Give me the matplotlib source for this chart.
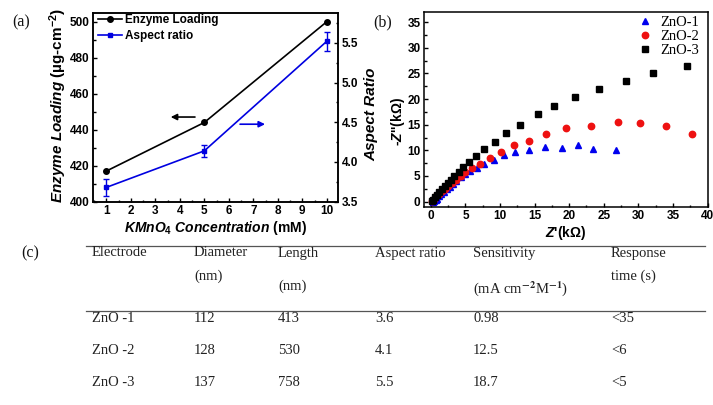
import matplotlib
matplotlib.use("Agg")
import matplotlib.pyplot as plt
from matplotlib.lines import Line2D
from matplotlib.ticker import MultipleLocator

# (a) enzyme loading and aspect ratio vs KMnO4 concentration
conc = [1, 5, 10]
enzyme_loading = [417, 444, 500]
aspect_ratio = [3.68, 4.14, 5.52]
aspect_err = [0.11, 0.08, 0.12]

# (b) Nyquist plots
zno1_re = [0.3, 0.5, 0.7, 0.9, 1.2, 1.5, 1.9, 2.3, 2.7, 3.2, 3.7, 4.3, 4.9,
           5.6, 6.6, 7.7, 9.1, 10.6, 12.2, 14.2, 16.5, 18.9, 21.2, 23.5, 26.7]
zno1_im = [0.0, 0.1, 0.3, 0.6, 1.0, 1.4, 1.9, 2.4, 2.9, 3.5, 4.1, 4.7, 5.3,
           5.9, 6.6, 7.4, 8.2, 9.0, 9.6, 10.1, 10.7, 10.5, 11.0, 10.3, 10.0]
zno2_re = [0.2, 0.5, 0.8, 1.2, 1.6, 2.0, 2.5, 3.0, 3.6, 4.3, 5.0, 5.9, 7.1,
           8.5, 10.1, 12.0, 14.2, 16.7, 19.6, 23.2, 27.0, 30.2, 34.0, 37.7]
zno2_im = [0.2, 0.6, 1.0, 1.5, 2.0, 2.5, 3.1, 3.7, 4.3, 5.0, 5.7, 6.5, 7.4,
           8.6, 9.7, 11.0, 11.9, 13.1, 14.4, 14.7, 15.5, 15.4, 14.7, 13.2]
zno3_re = [0.1, 0.3, 0.6, 0.9, 1.2, 1.6, 2.0, 2.4, 2.9, 3.4, 4.0, 4.6, 5.5,
           6.5, 7.7, 9.2, 10.8, 12.85, 15.45, 17.8, 20.8, 24.3, 28.2, 32.1, 37.1]
zno3_im = [0.1, 0.4, 0.8, 1.3, 1.8, 2.4, 3.0, 3.6, 4.3, 5.0, 5.8, 6.7, 7.8,
           8.9, 10.25, 11.7, 13.3, 15.0, 17.0, 18.6, 20.4, 22.0, 23.6, 25.1, 26.4]

# (c) table
header_top = ["Electrode", "Diameter", "Length", "Aspect ratio", "Sensitivity", "Response"]
header_bottom = ["", "(nm)", "(nm)", "", "(mA cm$^{-2}$M$^{-1}$)", "time (s)"]
electrodes = ["ZnO -1", "ZnO -2", "ZnO -3"]
diameter = ["112", "128", "137"]
length = ["413", "530", "758"]
ratio = ["3.6", "4.1", "5.5"]
sensitivity = ["0.98", "12.5", "18.7"]
response = ["<35", "<6", "<5"]

plt.rcParams["font.family"] = "Liberation Sans"
plt.rcParams["font.weight"] = "bold"
plt.rcParams["axes.labelweight"] = "bold"
plt.rcParams["mathtext.fontset"] = "custom"
plt.rcParams["mathtext.rm"] = "Liberation Sans:bold"
plt.rcParams["mathtext.bf"] = "Liberation Sans:bold"
plt.rcParams["mathtext.it"] = "Liberation Sans:italic:bold"
plt.rcParams["axes.linewidth"] = 1.1

W, H = 713, 405
fig = plt.figure(figsize=(W / 100, H / 100), dpi=100)


def px(x0, y0, x1, y1):
    return [x0 / W, 1 - y1 / H, (x1 - x0) / W, (y1 - y0) / H]


def style_ticks(ax):
    ax.tick_params(which="both", direction="in", labelsize=8.5, pad=2.5, width=1)
    ax.tick_params(which="major", length=3)
    ax.tick_params(which="minor", length=1.8)
    for lab in ax.get_xticklabels() + ax.get_yticklabels():
        lab.set_fontweight("bold")


# ---- panel (a)
ax = fig.add_axes(px(93.3, 12.7, 338.3, 201.7))
ax2 = ax.twinx()
ax.plot(conc, enzyme_loading, color="black", marker="o", ms=4, lw=1.2,
        label="Enzyme Loading")
ax2.errorbar(conc, aspect_ratio, yerr=aspect_err, color="#0000e0", marker="s",
             ms=3.5, lw=1.2, capsize=2, elinewidth=1)
ax.plot([], [], color="#0000e0", marker="s", ms=3.5, lw=1.2, label="Aspect ratio")

ax.set_xlim(0.47, 10.47)
ax.set_ylim(400, 505)
ax2.set_ylim(3.5, 5.88)
ax.xaxis.set_major_locator(MultipleLocator(1))
ax.xaxis.set_minor_locator(MultipleLocator(0.5))
ax.yaxis.set_major_locator(MultipleLocator(20))
ax.yaxis.set_minor_locator(MultipleLocator(10))
ax2.yaxis.set_major_locator(MultipleLocator(0.5))
ax2.yaxis.set_minor_locator(MultipleLocator(0.25))
style_ticks(ax)
style_ticks(ax2)
ax.tick_params(top=False)

ax.set_xlabel(r"$KMnO_4\ Concentration$ (mM)", fontsize=10, labelpad=1)
ax.set_ylabel("$Enzyme\\ Loading$ (\u00b5g-cm$^{-2}$)", fontsize=11)
ax.yaxis.set_label_coords(-0.1, 0.51)
ax2.set_ylabel("Aspect Ratio", fontsize=11, style="italic")
ax2.yaxis.set_label_coords(1.105, 0.465)

ax.legend(loc="upper left", bbox_to_anchor=(-0.01, 1.03), frameon=False,
          fontsize=8.5, handlelength=2.0, handletextpad=0.3, labelspacing=0.3,
          borderaxespad=0.2)

ax.annotate("", xy=(0.316, 0.448), xytext=(0.415, 0.448), xycoords="axes fraction",
            arrowprops=dict(arrowstyle="-|>", color="black", lw=1.2,
                            mutation_scale=9, shrinkA=0, shrinkB=0))
ax.annotate("", xy=(0.701, 0.41), xytext=(0.599, 0.41), xycoords="axes fraction",
            arrowprops=dict(arrowstyle="-|>", color="#0000e0", lw=1.2,
                            mutation_scale=9, shrinkA=0, shrinkB=0))

# ---- panel (b)
bx = fig.add_axes(px(424, 12, 707.5, 206.7))
bx.plot(zno1_re, zno1_im, ls="none", marker="^", ms=5, color="#0000ee", label="ZnO-1")
bx.plot(zno2_re, zno2_im, ls="none", marker="o", ms=4.6, color="#ee1111", label="ZnO-2")
bx.plot(zno3_re, zno3_im, ls="none", marker="s", ms=4, color="black", label="ZnO-3")
bx.set_xlim(-1, 40)
bx.set_ylim(-1, 37)
bx.xaxis.set_major_locator(MultipleLocator(5))
bx.xaxis.set_minor_locator(MultipleLocator(2.5))
bx.yaxis.set_major_locator(MultipleLocator(5))
bx.yaxis.set_minor_locator(MultipleLocator(2.5))
style_ticks(bx)
bx.set_xlabel("$Z$'(k\u03a9)", fontsize=10, labelpad=1)
bx.set_ylabel("-$Z$''(k\u03a9)", fontsize=10)
bx.yaxis.set_label_coords(-0.06, 0.44)
bx.legend(loc="upper right", bbox_to_anchor=(1.0, 1.025), frameon=False,
          prop={"family": "Liberation Serif", "weight": "normal", "size": 10.5},
          handlelength=1.0, handletextpad=0.5, labelspacing=0.05, borderaxespad=0.2)

# ---- panel labels
serif = dict(family="Liberation Serif", weight="normal", color="#111111")
fig.text(12 / W, 1 - 22 / H, "(a)", fontsize=11.5, va="center", **serif)
fig.text(373 / W, 1 - 22 / H, "(b)", fontsize=11.5, va="center", **serif)
fig.text(21 / W, 1 - 253 / H, "(c)", fontsize=11.5, va="center", **serif)

# ---- table (c)
col_x = [92, 194, 278, 375, 473, 611]
sub_y = [276.7, 276.7, 286.7, 276.7, 288.3, 276.7]
row_y = [318, 350.5, 382.5]
cell = dict(fontsize=10.5, va="center", ha="left", math_fontfamily="stix",
            family="Liberation Serif", weight="normal", color="#222222")

for i, x in enumerate(col_x):
    fig.text(x / W, 1 - 253 / H, header_top[i], **cell)
    if header_bottom[i]:
        fig.text(x / W, 1 - sub_y[i] / H, header_bottom[i], **cell)

columns = [electrodes, diameter, length, ratio, sensitivity, response]
for x, col in zip(col_x, columns):
    for y, val in zip(row_y, col):
        fig.text(x / W, 1 - y / H, val, **cell)

for y in (245.7, 310.5):
    fig.add_artist(Line2D([86 / W, 705 / W], [1 - y / H, 1 - y / H],
                          color="#555555", lw=0.9))

fig.savefig("out.png", dpi=100)
